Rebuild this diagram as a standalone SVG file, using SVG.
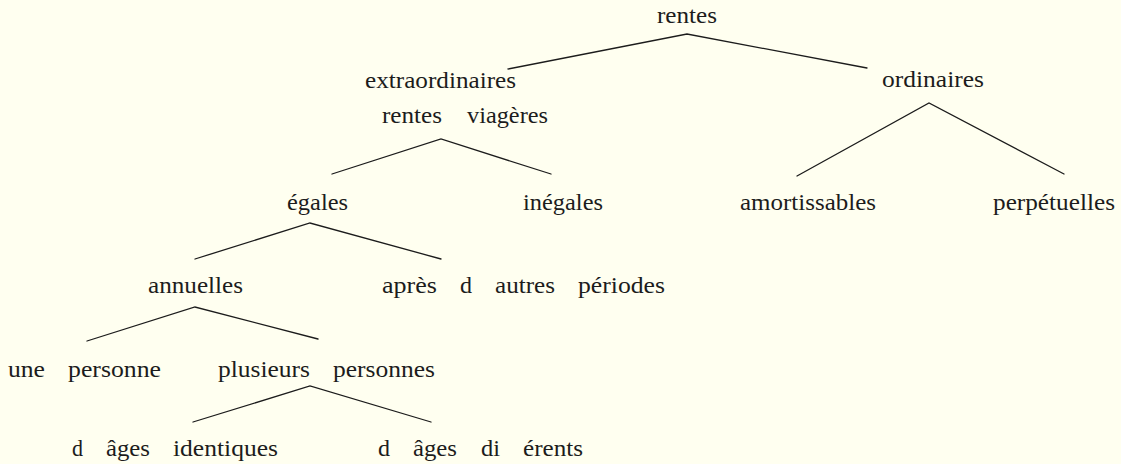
<svg xmlns="http://www.w3.org/2000/svg" width="1121" height="464" viewBox="0 0 1121 464">
<style>
text{font-family:"Liberation Serif","DejaVu Serif",serif;font-size:23px;fill:#1c1c1c}
.e{fill:none;stroke:#1c1c1c;stroke-width:1.3;stroke-linecap:round;stroke-linejoin:miter}
</style>
<rect width="1121" height="464" fill="#FFFFF0"/>
<g id="connectors">
<polyline class="e" points="508,69 687,34 867,68"/>
<polyline class="e" points="332,174 441,139 551,174"/>
<polyline class="e" points="797,176 929,103 1064,174"/>
<polyline class="e" points="195,259 310,223 441,259"/>
<polyline class="e" points="87,341 195,307 318,339"/>
<polyline class="e" points="193,422 310,386 431,422"/>
</g>
<g id="n-rentes"><text x="657" y="23" textLength="60" lengthAdjust="spacingAndGlyphs">rentes</text></g>
<g id="n-extraordinaires"><text x="365" y="88" textLength="151" lengthAdjust="spacingAndGlyphs">extraordinaires</text></g>
<g id="n-ordinaires"><text x="882" y="87" textLength="102" lengthAdjust="spacingAndGlyphs">ordinaires</text></g>
<g id="n-rentes-viageres">
<text x="382" y="122.5" textLength="60" lengthAdjust="spacingAndGlyphs">rentes</text>
<text x="467" y="122.5" textLength="81" lengthAdjust="spacingAndGlyphs">viagères</text>
</g>
<g id="n-egales"><text x="287" y="210" textLength="61" lengthAdjust="spacingAndGlyphs">égales</text></g>
<g id="n-inegales"><text x="523" y="210" textLength="80" lengthAdjust="spacingAndGlyphs">inégales</text></g>
<g id="n-amortissables"><text x="740" y="210" textLength="136" lengthAdjust="spacingAndGlyphs">amortissables</text></g>
<g id="n-perpetuelles"><text x="993" y="210" textLength="122" lengthAdjust="spacingAndGlyphs">perpétuelles</text></g>
<g id="n-annuelles"><text x="148" y="293" textLength="95" lengthAdjust="spacingAndGlyphs">annuelles</text></g>
<g id="n-apres">
<text x="382" y="293" textLength="55" lengthAdjust="spacingAndGlyphs">après</text>
<text x="460" y="293" textLength="12" lengthAdjust="spacingAndGlyphs">d</text>
<text x="495" y="293" textLength="60" lengthAdjust="spacingAndGlyphs">autres</text>
<text x="578" y="293" textLength="87" lengthAdjust="spacingAndGlyphs">périodes</text>
</g>
<g id="n-une-personne">
<text x="8" y="377" textLength="37" lengthAdjust="spacingAndGlyphs">une</text>
<text x="68" y="377" textLength="93" lengthAdjust="spacingAndGlyphs">personne</text>
</g>
<g id="n-plusieurs">
<text x="218" y="377" textLength="92" lengthAdjust="spacingAndGlyphs">plusieurs</text>
<text x="333" y="377" textLength="102" lengthAdjust="spacingAndGlyphs">personnes</text>
</g>
<g id="n-identiques">
<text x="72" y="456" textLength="11" lengthAdjust="spacingAndGlyphs">d</text>
<text x="106" y="456" textLength="44" lengthAdjust="spacingAndGlyphs">âges</text>
<text x="173" y="456" textLength="105" lengthAdjust="spacingAndGlyphs">identiques</text>
</g>
<g id="n-differents">
<text x="378" y="456" textLength="12" lengthAdjust="spacingAndGlyphs">d</text>
<text x="413" y="456" textLength="44" lengthAdjust="spacingAndGlyphs">âges</text>
<text x="481" y="456" textLength="19" lengthAdjust="spacingAndGlyphs">di</text>
<text x="523" y="456" textLength="60" lengthAdjust="spacingAndGlyphs">érents</text>
</g>
</svg>
